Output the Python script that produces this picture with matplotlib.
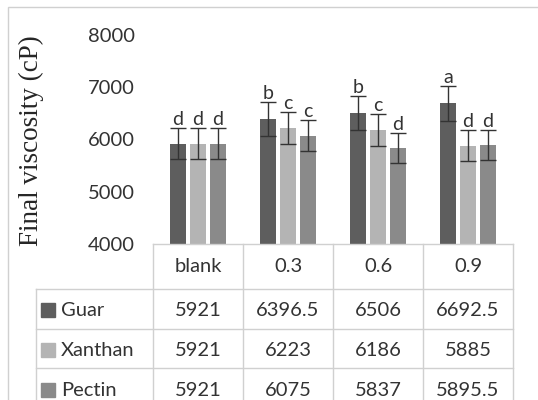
import matplotlib.pyplot as plt
import matplotlib.transforms as mtransforms
from matplotlib.patches import Rectangle
from matplotlib.lines import Line2D

categorias = ['blank', '0.3', '0.6', '0.9']
series = ['Guar', 'Xanthan', 'Pectin']
guar = [5921, 6396.5, 6506, 6692.5]
xanthan = [5921, 6223, 6186, 5885]
pectin = [5921, 6075, 5837, 5895.5]
err_guar = [296, 320, 325, 335]
err_xanthan = [296, 311, 309, 294]
err_pectin = [296, 304, 292, 295]
letras_guar = ['d', 'b', 'b', 'a']
letras_xanthan = ['d', 'c', 'c', 'd']
letras_pectin = ['d', 'c', 'd', 'd']
colores = ['#5e5e5e', '#b4b4b4', '#8a8a8a']
etiquetas_tabla = ['5921', '6396.5', '6506', '6692.5'], ['5921', '6223', '6186', '5885'], ['5921', '6075', '5837', '5895.5']

W, H = 538, 400
fig = plt.figure(figsize=(W / 100, H / 100), dpi=100)
plt.rcParams['font.family'] = ['Lato', 'DejaVu Sans']
txt = '#333333'

# area del grafico en pixeles
x0, x1, ytop, ybot = 153, 513, 35, 244
ax = fig.add_axes([x0 / W, 1 - ybot / H, (x1 - x0) / W, (ybot - ytop) / H])

valores = [guar, xanthan, pectin]
errores = [err_guar, err_xanthan, err_pectin]
letras = [letras_guar, letras_xanthan, letras_pectin]
ancho = 0.178
paso = 0.222
for i in range(3):
    xs = [k + (i - 1) * paso for k in range(len(categorias))]
    ax.bar(xs, valores[i], ancho, color=colores[i], zorder=2)
    ax.errorbar(xs, valores[i], yerr=errores[i], fmt='none', ecolor='#333333',
                elinewidth=1, capsize=5.5, capthick=1, zorder=3)
    for k in range(len(categorias)):
        ax.annotate(letras[i][k], (xs[k], valores[i][k] + errores[i][k]),
                    xytext=(0, 0), textcoords='offset points', ha='center',
                    va='bottom', fontsize=14, color=txt)

ax.set_xlim(-0.5, 3.5)
ax.set_ylim(4000, 8000)
ax.set_yticks([4000, 5000, 6000, 7000, 8000])
ax.tick_params(axis='y', length=0, pad=13, labelsize=14.5, labelcolor=txt)
ax.set_xticks([])
for s in ax.spines.values():
    s.set_visible(False)
ax.patch.set_alpha(0)

fig.text(31 / W, 1 - 141 / H, 'Final viscosity (cP)', rotation=90, ha='center',
         va='center', fontsize=19.5, family='Liberation Serif', color='#262626')

# tabla de datos debajo
trans = mtransforms.blended_transform_factory(ax.transData, fig.transFigure)
fy = lambda p: 1 - p / H
gris = '#d0d0d0'
x_izq = -0.5 - (x0 - 36) / ((x1 - x0) / 4)
filas = [244, 289, 329, 368, 420]
# lineas horizontales
fig.add_artist(Line2D([-0.5, 3.5], [fy(filas[0])] * 2, transform=trans, color=gris, lw=1))
for p in filas[1:4]:
    fig.add_artist(Line2D([x_izq, 3.5], [fy(p)] * 2, transform=trans, color=gris, lw=1))
# lineas verticales
for xv in [-0.5, 0.5, 1.5, 2.5, 3.5]:
    fig.add_artist(Line2D([xv, xv], [fy(filas[0]), fy(filas[4])], transform=trans, color=gris, lw=1))
fig.add_artist(Line2D([x_izq, x_izq], [fy(filas[1]), fy(filas[4])], transform=trans, color=gris, lw=1))

for k, c in enumerate(categorias):
    fig.text(k, fy(267), c, transform=trans, ha='center', va='center', fontsize=14.5, color=txt)
centros = [310, 350, 390]
for i in range(3):
    for k in range(len(categorias)):
        fig.text(k, fy(centros[i]), etiquetas_tabla[i][k], transform=trans, ha='center',
                 va='center', fontsize=14.5, color=txt)
    fig.add_artist(Rectangle((41 / W, fy(centros[i] + 7)), 14 / W, 14 / H,
                             transform=fig.transFigure, color=colores[i]))
    fig.text(61 / W, fy(centros[i]), series[i], ha='left', va='center', fontsize=14.5, color=txt)

# borde exterior del grafico
fig.add_artist(Rectangle((8 / W, -0.1), 1.2, 1 - 7 / H + 0.1, transform=fig.transFigure,
                         fill=False, edgecolor='#d0d0d0', lw=1))

fig.savefig('out.png', dpi=100)
